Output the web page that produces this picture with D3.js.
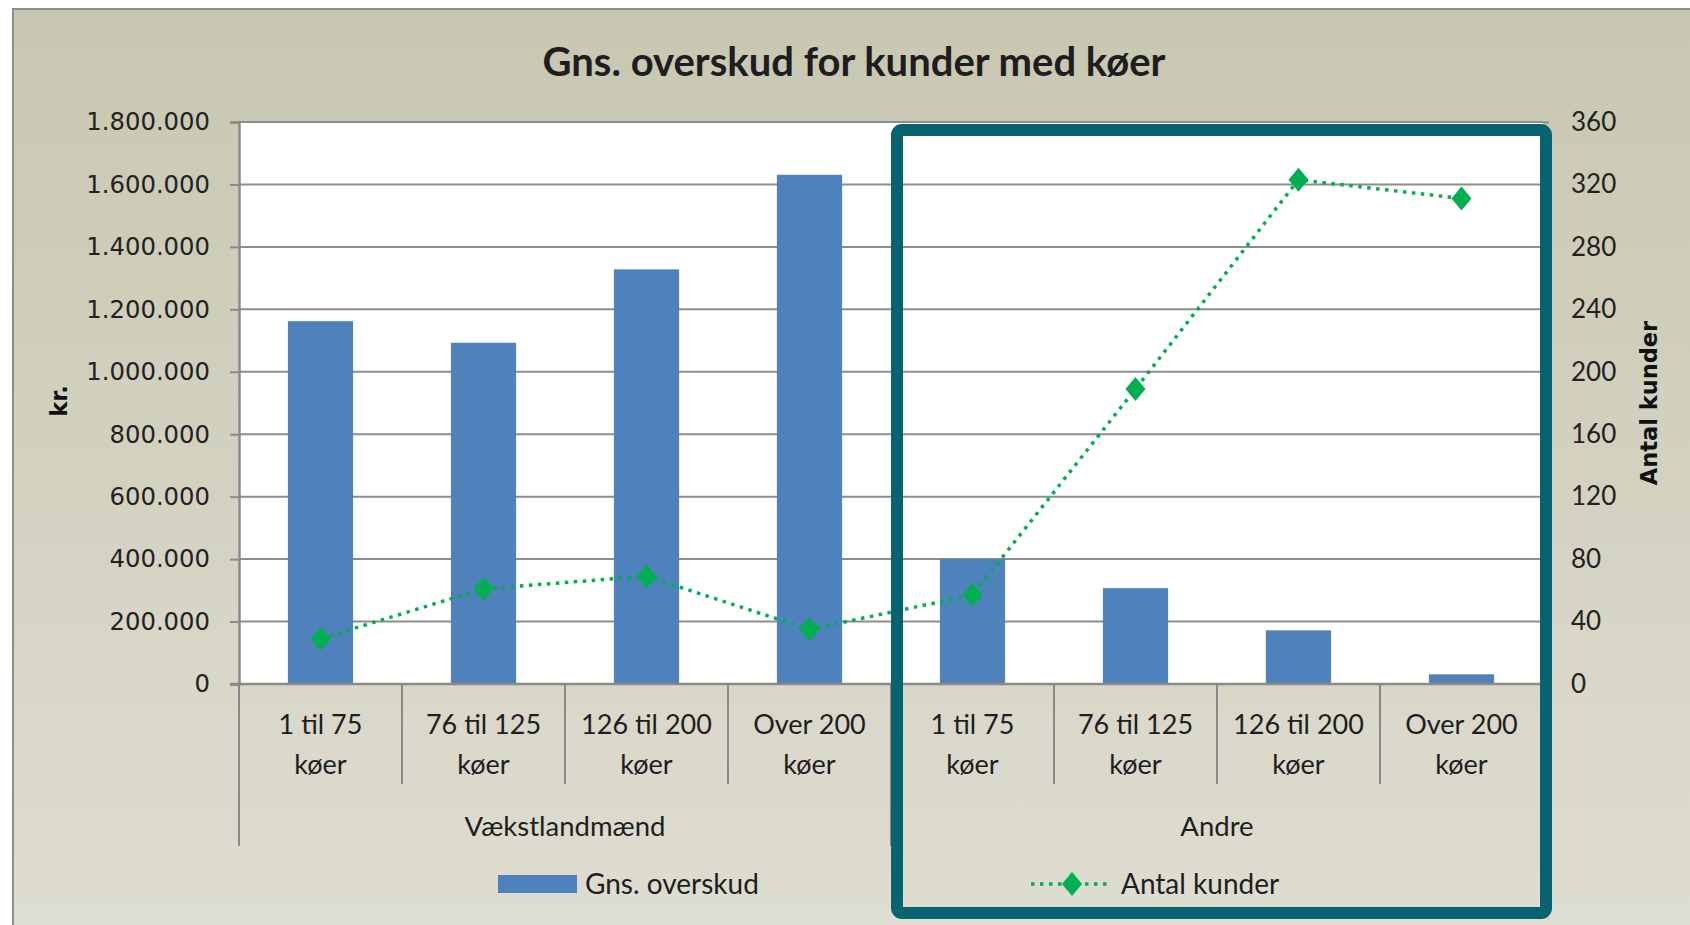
<!DOCTYPE html>
<html lang="da">
<head>
<meta charset="utf-8">
<title>Gns. overskud for kunder med køer</title>
<script src="https://d3js.org/d3.v7.min.js"></script>
<style>
  body { margin: 0; background: #fff; }
  .cat { font-family: Lato, "Open Sans", sans-serif; fill: #1e1e1e; }
  .ltick { font-family: "DejaVu Sans", sans-serif; font-size: 24.3px; fill: #222; }
  .rtick { font-family: Lato, sans-serif; font-size: 26px; fill: #222; }
  .atitle { font-family: "DejaVu Sans", sans-serif; font-weight: bold; font-size: 22.5px; fill: #111; }
</style>
</head>
<body>
<div id="chart"></div>
<script>
// data
var groups = ["Vækstlandmænd", "Andre"];
var classes = [["1 til 75", "køer"], ["76 til 125", "køer"], ["126 til 200", "køer"], ["Over 200", "køer"]];
var overskud = [1162000, 1093000, 1328000, 1631000, 400000, 307000, 172000, 31000];
var antalKunder = [29, 61, 69, 35, 57, 189, 323, 311];
var leftTicks = [0, 200000, 400000, 600000, 800000, 1000000, 1200000, 1400000, 1600000, 1800000];
var rightTicks = [0, 40, 80, 120, 160, 200, 240, 280, 320, 360];

var W = 1690, H = 925;
var plot = {left: 239, right: 1543, top: 122, bottom: 684};

var svg = d3.select("#chart").append("svg")
  .attr("width", W).attr("height", H);

var defs = svg.append("defs");
var grad = defs.append("linearGradient").attr("id", "bg")
  .attr("x1", 0).attr("y1", 0).attr("x2", 0).attr("y2", 1);
grad.append("stop").attr("offset", "0%").attr("stop-color", "#c8c7b1");
grad.append("stop").attr("offset", "100%").attr("stop-color", "#deddd1");

// chart area background + border
svg.append("rect").attr("x", 13).attr("y", 9).attr("width", W).attr("height", H)
  .attr("fill", "url(#bg)").attr("stroke", "#8e8e8a").attr("stroke-width", 2);

// category data (index per bar)
var cats = [];
groups.forEach(function(g, gi) {
  classes.forEach(function(c, ci) { cats.push({group: g, lines: c, i: gi * classes.length + ci}); });
});

var x = d3.scaleBand().domain(d3.range(cats.length))
  .range([plot.left, plot.right]).paddingInner(0.6).paddingOuter(0.3);
var xStep = x.step();
var y = d3.scaleLinear().domain([0, 1800000]).range([plot.bottom, plot.top]);
var y2 = d3.scaleLinear().domain([0, 360]).range([plot.bottom, plot.top]);

// plot area
svg.append("rect").attr("x", plot.left).attr("y", plot.top)
  .attr("width", plot.right - plot.left).attr("height", plot.bottom - plot.top)
  .attr("fill", "#fff");

// gridlines
svg.append("g").selectAll("line").data(leftTicks).enter().append("line")
  .attr("x1", plot.left).attr("x2", plot.right)
  .attr("y1", function(d) { return y(d); }).attr("y2", function(d) { return y(d); })
  .attr("stroke", "#8d8d8d").attr("stroke-width", 2);

// left axis
var daLocale = d3.formatLocale({decimal: ",", thousands: ".", grouping: [3], currency: ["", " kr."]});
var fmt = daLocale.format(",");
var yAxis = svg.append("g").attr("transform", "translate(" + plot.left + ",0)")
  .call(d3.axisLeft(y).tickValues(leftTicks).tickFormat(fmt).tickSize(9).tickPadding(20));
yAxis.select(".domain").attr("stroke", "#8a8a8a").attr("stroke-width", 2.5);
yAxis.selectAll(".tick line").attr("stroke", "#8a8a8a").attr("stroke-width", 2);
yAxis.selectAll(".tick text").attr("class", "ltick").attr("font-size", null).attr("font-family", null);

// right axis (labels only)
var y2Axis = svg.append("g").attr("transform", "translate(" + plot.right + ",0)")
  .call(d3.axisRight(y2).tickValues(rightTicks).tickSize(6).tickPadding(22));
y2Axis.select(".domain").remove();
y2Axis.selectAll(".tick line").attr("stroke", "#8a8a8a").attr("stroke-width", 2);
y2Axis.selectAll(".tick text").attr("class", "rtick").attr("font-size", null).attr("font-family", null);

// bars
svg.append("g").selectAll("rect").data(overskud).enter().append("rect")
  .attr("x", function(d, i) { return x(i); })
  .attr("y", function(d) { return y(d); })
  .attr("width", x.bandwidth())
  .attr("height", function(d) { return plot.bottom - y(d); })
  .attr("fill", "#4f81bd");

// baseline
svg.append("line").attr("x1", plot.left - 9).attr("x2", plot.right)
  .attr("y1", plot.bottom).attr("y2", plot.bottom)
  .attr("stroke", "#8a8a8a").attr("stroke-width", 2.5);

// category separators
var bounds = d3.range(cats.length + 1);
svg.append("g").selectAll("line").data(bounds).enter().append("line")
  .attr("x1", function(d) { return plot.left + d * xStep; })
  .attr("x2", function(d) { return plot.left + d * xStep; })
  .attr("y1", plot.bottom)
  .attr("y2", function(d) { return d % classes.length === 0 ? 846 : 784; })
  .attr("stroke", "#8a8a8a").attr("stroke-width", 2);

// category labels
var catLab = svg.append("g").selectAll("text").data(cats).enter().append("text")
  .attr("class", "cat").attr("font-size", 27).attr("text-anchor", "middle")
  .attr("x", function(d) { return x(d.i) + x.bandwidth() / 2; });
catLab.append("tspan").attr("y", 734).text(function(d) { return d.lines[0]; })
  .attr("x", function(d) { return x(d.i) + x.bandwidth() / 2; });
catLab.append("tspan").attr("y", 774).text(function(d) { return d.lines[1]; })
  .attr("x", function(d) { return x(d.i) + x.bandwidth() / 2; });

// group labels
svg.append("g").selectAll("text").data(groups).enter().append("text")
  .attr("class", "cat").attr("font-size", 27.5).attr("text-anchor", "middle")
  .attr("x", function(d, gi) { return plot.left + (gi + 0.5) * classes.length * xStep; })
  .attr("y", 836).text(function(d) { return d; });

// line series
var line = d3.line()
  .x(function(d, i) { return x(i) + x.bandwidth() / 2; })
  .y(function(d) { return y2(d); });
svg.append("path").datum(antalKunder)
  .attr("d", line).attr("fill", "none")
  .attr("stroke", "#00b050").attr("stroke-width", 3.5)
  .attr("stroke-dasharray", "3.5 5.5");

function diamond(cx, cy, w, h) {
  return "M" + cx + "," + (cy - h / 2) + "L" + (cx + w / 2) + "," + cy +
    "L" + cx + "," + (cy + h / 2) + "L" + (cx - w / 2) + "," + cy + "Z";
}
svg.append("g").selectAll("path").data(antalKunder).enter().append("path")
  .attr("d", function(d, i) { return diamond(x(i) + x.bandwidth() / 2, y2(d), 20, 24); })
  .attr("fill", "#00b050");

// title
svg.append("text").attr("x", 854).attr("y", 76)
  .attr("text-anchor", "middle").attr("class", "cat")
  .attr("font-size", 40).attr("font-weight", "bold").attr("fill", "#111")
  .text("Gns. overskud for kunder med køer");

// axis titles
svg.append("text").attr("class", "atitle")
  .attr("transform", "translate(67,401) rotate(-90)")
  .attr("text-anchor", "middle").text("kr.");
svg.append("text").attr("class", "atitle")
  .attr("transform", "translate(1657,403) rotate(-90)")
  .attr("text-anchor", "middle").text("Antal kunder");

// legend
svg.append("rect").attr("x", 498).attr("y", 875).attr("width", 79).attr("height", 18)
  .attr("fill", "#4f81bd");
svg.append("text").attr("class", "cat").attr("font-size", 28)
  .attr("x", 585).attr("y", 894).text("Gns. overskud");
svg.append("line").attr("x1", 1031).attr("x2", 1107).attr("y1", 884).attr("y2", 884)
  .attr("stroke", "#00b050").attr("stroke-width", 3.5).attr("stroke-dasharray", "3.5 5.5");
svg.append("path").attr("d", diamond(1072, 884, 20, 24)).attr("fill", "#00b050");
svg.append("text").attr("class", "cat").attr("font-size", 28)
  .attr("x", 1121).attr("y", 894).text("Antal kunder");

// highlight box
svg.append("rect").attr("x", 897).attr("y", 130).attr("width", 649).attr("height", 783)
  .attr("rx", 5).attr("fill", "none")
  .attr("stroke", "#07636f").attr("stroke-width", 12);
</script>
</body>
</html>
